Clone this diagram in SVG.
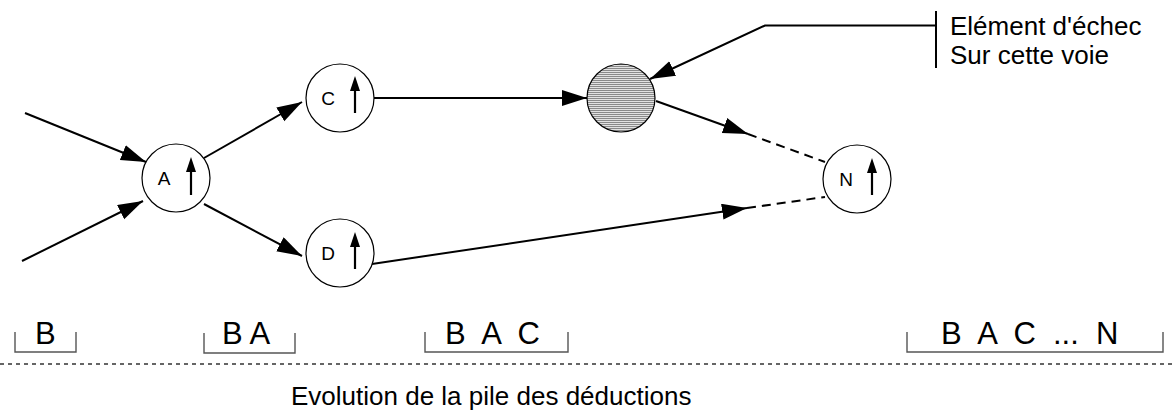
<svg xmlns="http://www.w3.org/2000/svg" width="1174" height="412" viewBox="0 0 1174 412">
<style>
text{font-family:"Liberation Sans",Arial,sans-serif;fill:#000;white-space:pre}
.node{fill:#fff;stroke:#000;stroke-width:1.2}
.lbl{font-size:19px;text-anchor:middle}
.up{stroke:#000;stroke-width:2.2;fill:none}
.con{stroke:#000;stroke-width:2;fill:none}
.dash{stroke:#000;stroke-width:2;fill:none;stroke-dasharray:9 6}
.stk{font-size:31px}
.brk{stroke:#555;stroke-width:1.4;fill:none}
</style>
<defs>
<marker id="ah" markerUnits="userSpaceOnUse" markerWidth="26" markerHeight="18" refX="25" refY="8" orient="auto">
<path d="M0,0 L25,8 L0,16 z" fill="#000"/>
</marker>
<marker id="uh" markerUnits="userSpaceOnUse" markerWidth="16" markerHeight="12" refX="0" refY="5" orient="auto">
<path d="M0,0 L15,5 L0,10 z" fill="#000"/>
</marker>
<pattern id="hatch" patternUnits="userSpaceOnUse" width="4" height="2">
<rect width="4" height="2" fill="#e2e2e2"/>
<rect width="4" height="1" fill="#8a8a8a"/>
</pattern>
</defs>

<g id="connectors">
<line class="con" x1="25" y1="113" x2="146" y2="162" marker-end="url(#ah)"/>
<line class="con" x1="22" y1="261" x2="143" y2="201" marker-end="url(#ah)"/>
<line class="con" x1="204" y1="158" x2="302" y2="102" marker-end="url(#ah)"/>
<line class="con" x1="204" y1="204" x2="302" y2="256" marker-end="url(#ah)"/>
<line class="con" x1="374" y1="98" x2="587" y2="98" marker-end="url(#ah)"/>
<line class="con" x1="656" y1="101" x2="748" y2="134" marker-end="url(#ah)"/>
<line class="dash" x1="748" y1="134" x2="825" y2="162"/>
<line class="con" x1="372" y1="264" x2="747" y2="208" marker-end="url(#ah)"/>
<line class="dash" x1="747" y1="208" x2="825" y2="197"/>
<polyline class="con" points="936,25.5 765,25.5 650,79" marker-end="url(#ah)"/>
<line class="con" x1="936" y1="11" x2="936" y2="68" stroke-width="1.5"/>
</g>

<g id="node-A">
<circle class="node" cx="176" cy="178" r="34"/>
<text class="lbl" x="164" y="185">A</text>
<line class="up" x1="191" y1="195" x2="191" y2="172" marker-end="url(#uh)"/>
</g>
<g id="node-C">
<circle class="node" cx="340" cy="98" r="34"/>
<text class="lbl" x="328" y="105">C</text>
<line class="up" x1="355" y1="113" x2="355" y2="91" marker-end="url(#uh)"/>
</g>
<g id="node-D">
<circle class="node" cx="340" cy="253" r="34"/>
<text class="lbl" x="328" y="260">D</text>
<line class="up" x1="355" y1="269" x2="355" y2="247" marker-end="url(#uh)"/>
</g>
<g id="node-fail">
<circle cx="621" cy="98" r="34" fill="url(#hatch)" stroke="#000" stroke-width="1.2"/>
</g>
<g id="node-N">
<circle class="node" cx="857" cy="179" r="34"/>
<text class="lbl" x="846" y="186">N</text>
<line class="up" x1="872" y1="195" x2="872" y2="173" marker-end="url(#uh)"/>
</g>

<g id="callout">
<text x="950" y="35" font-size="26">Elément d'échec</text>
<text x="950" y="64" font-size="26">Sur cette voie</text>
</g>

<g id="stack">
<polyline class="brk" points="15,332 15,352 76,352 76,332"/>
<text class="stk" x="35" y="344">B</text>
<polyline class="brk" points="204,333 204,353 295,353 295,333"/>
<text class="stk" x="222" y="344">B A</text>
<polyline class="brk" points="425,332 425,352 568,352 568,332"/>
<text class="stk" x="445" y="344">B  A  C</text>
<polyline class="brk" points="907,332 907,352 1163,352 1163,332"/>
<text class="stk" x="941" y="344">B  A  C  ...  N</text>
<line x1="0" y1="364" x2="1174" y2="364" stroke="#333" stroke-width="1.5" stroke-dasharray="4 4"/>
<text x="291" y="405" font-size="26">Evolution de la pile des déductions</text>
</g>
</svg>
